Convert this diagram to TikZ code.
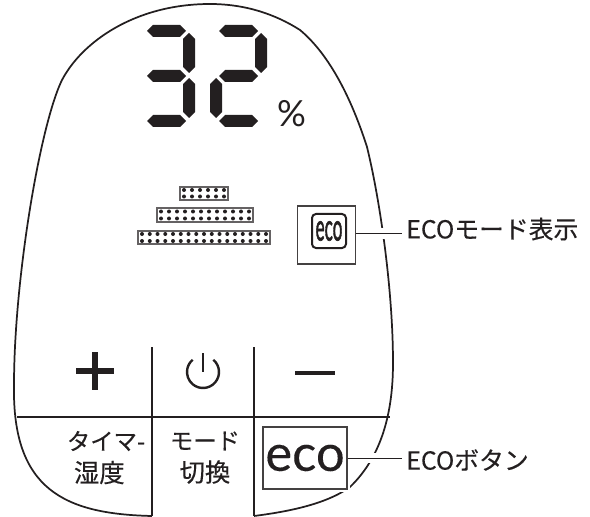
\documentclass[tikz,border=0pt]{standalone}
\usepackage{fontspec}
\setmainfont[FakeBold=.25]{Noto Sans CJK JP}
\newfontfamily\ecofont[FakeBold=.2]{Lato}
\newfontfamily\iconfont[FakeBold=2]{Lato}
\newfontfamily\pctfont{Lato}
\usetikzlibrary{positioning}
\definecolor{ink}{HTML}{231F20}
\tikzset{
 shell/.style
  = {draw=ink, line width=1.3pt},
 grid/.style
  = {draw=ink, line width=2pt},
 seg/.style
  = {fill=ink, draw=none},
 bar/.style
  = {rectangle, draw=ink!70, line width=1pt, fill=white},
 pip/.style
  = {fill=ink, draw=none},
 l/.style
  = {draw=ink, line width=.7pt},
 halo/.style
  = {draw=white, line width=4.5pt},
 gap/.style
  = {draw=white, line width=8pt},
 ecobox/.style
  = {rectangle, draw=ink!85, line width=.8pt, inner sep=0pt, fill=white},
 tag/.style
  = {text=ink, font=\fontsize{18.6}{20}\selectfont, inner ysep=0pt, inner xsep=3pt},
 key/.style
  = {text=ink, font=\fontsize{17.5}{20}\selectfont, inner sep=0pt},
 kanji/.style
  = {text=ink, font=\fontsize{19}{20}\selectfont, inner sep=0pt}
}
\newcommand{\hseg}[2]{\path [seg] (#1,#2) -- ++(6,-6) -- ++(27,0) -- ++(6,6) -- ++(-6,6) -- ++(-27,0) -- cycle;}
\newcommand{\vseg}[2]{\path [seg] (#1,#2) -- ++(6,6) -- ++(0,28) -- ++(-6,6) -- ++(-6,-6) -- ++(0,-28) -- cycle;}
\begin{document}
\begin{tikzpicture}[x=.75pt, y=-.75pt]
    \useasboundingbox (0,0) rectangle (590,517);

    % case
    \draw [shell] (152,516) .. controls (65,514) and (12,490) .. (14,385)
      .. controls (14,280) and (40,125) .. (62,80)
      .. controls (82,42) and (135,4) .. (210,4)
      .. controls (245,4) and (275,14) .. (300,30)
      .. controls (330,55) and (352,100) .. (367,147)
      .. controls (380,200) and (393,290) .. (393,363)
      .. controls (393,420) and (378,460) .. (350,487)
      .. controls (325,505) and (285,512) .. (254,516);

    % digits
    \foreach \sx in {147,219}
      \foreach \sy in {31,76,121}
        \hseg{\sx}{\sy};
    \vseg{189}{33};
    \vseg{189}{78};
    \vseg{261}{33};
    \vseg{216}{78};
    \node [text=ink, font=\fontsize{27}{27}\pctfont, inner sep=0pt] (percent) at (291.5,113.5) {\%};

    % level bars
    \node [bar, minimum width=36pt, minimum height=9.7pt] (level1) at (204,193.5) {};
    \node [bar, minimum width=72pt, minimum height=10.5pt] (level2) at (205,215) {};
    \node [bar, minimum width=99pt, minimum height=9.7pt] (level3) at (204,237.5) {};
    \foreach \col in {0,...,5}
      \foreach \row in {190,196.5}
        \path [pip] (184+\col*8,\row) circle (1.5pt);
    \foreach \col in {0,...,11}
      \foreach \row in {211.5,218.5}
        \path [pip] (161+\col*8,\row) circle (1.5pt);
    \foreach \col in {0,...,16}
      \foreach \row in {234,241}
        \path [pip] (142+\col*7.75,\row) circle (1.5pt);

    % eco indicator
    \coordinate (ecotap) at (356,233);
    \node [ecobox, minimum width=44pt, minimum height=43.5pt] (ecoshow) at (326.5,235) {};
    \node [draw=ink, line width=1.5pt, rounded corners=3pt, minimum width=25.5pt, minimum height=25.5pt, inner sep=0pt, text=ink] (ecoicon) at (329,231) {\fontsize{28}{28}\iconfont\scalebox{.46}[1]{eco}};
    \node [tag, anchor=west] (ecoshowlabel) at (402,229) {ECOモード表示};
    \path [gap] (375,233.5) -- (392,233.5);
    \path [l] (ecotap) -- (ecoshowlabel.west |- ecotap);

    % keys
    \path [grid] (17,417) -- (390,417);
    \path [grid] (152,347) -- (152,516);
    \path [grid] (254,347) -- (254,516);
    \path [draw=ink, line width=3.9pt] (76,371) -- (114,371);
    \path [draw=ink, line width=3.9pt] (95,352) -- (95,390);
    \draw [ink, line width=1.8pt] (203,372) ++(-50:16) arc (-50:230:16);
    \path [draw=ink, line width=1.9pt] (203,353) -- (203,372);
    \path [draw=ink, line width=3pt] (295,373) -- (335,373);
    \node [key] (timer) at (106,441) {タイマ-};
    \node [kanji, below = 7pt of timer.south, xshift=-5pt, anchor=north] (humidity) {湿度};
    \node [key] (mode) at (205,441) {モード};
    \node [kanji, below = 7pt of mode.south, anchor=north] (switch) {切換};

    % eco key
    \path [halo] (263,427) rectangle (347,489);
    \path [gap] (365,458) -- (392,458);
    \node [ecobox, minimum width=63pt, minimum height=46.5pt] (ecokey) at (305,458) {\textcolor{ink}{\fontsize{38}{38}\ecofont eco}};
    \node [tag, anchor=west] (ecokeylabel) at (402,460) {ECOボタン};
    \path [l] (ecokey.east) -- (ecokeylabel.west |- ecokey.east);
\end{tikzpicture}
\end{document}
